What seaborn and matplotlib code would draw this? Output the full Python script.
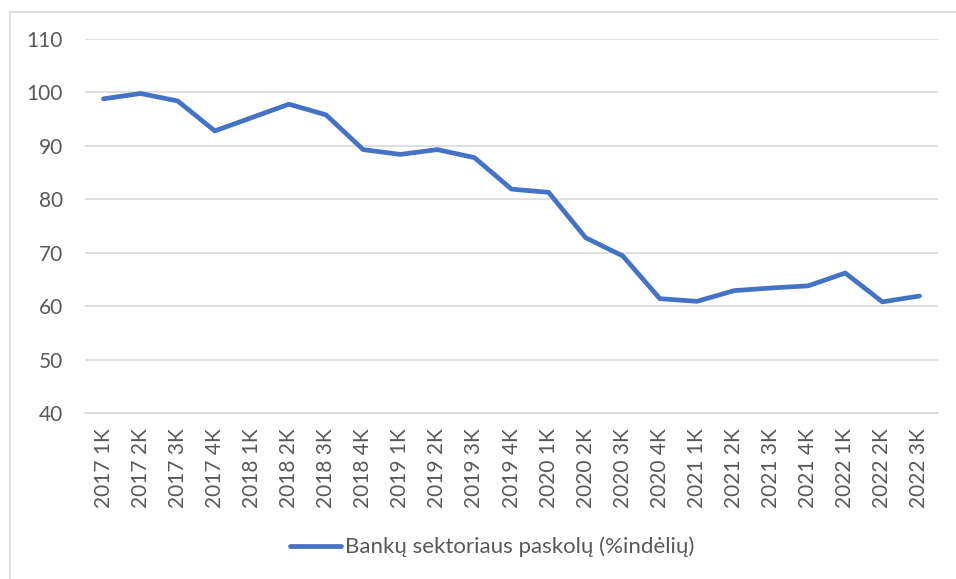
import matplotlib
matplotlib.use("Agg")
import matplotlib.pyplot as plt
from matplotlib.patches import Rectangle
import seaborn as sns
import pandas as pd

quarters = ["2017 1K", "2017 2K", "2017 3K", "2017 4K",
            "2018 1K", "2018 2K", "2018 3K", "2018 4K",
            "2019 1K", "2019 2K", "2019 3K", "2019 4K",
            "2020 1K", "2020 2K", "2020 3K", "2020 4K",
            "2021 1K", "2021 2K", "2021 3K", "2021 4K",
            "2022 1K", "2022 2K", "2022 3K"]
loans_to_deposits = [98.8, 99.8, 98.4, 92.8, 95.3, 97.8, 95.8, 89.3, 88.4,
                     89.3, 87.8, 81.9, 81.3, 72.8, 69.4, 61.4, 60.9, 62.9,
                     63.4, 63.8, 66.2, 60.8, 61.9]
series_name = "Bankų sektoriaus paskolų (%indėlių)"
y_ticks = [40, 50, 60, 70, 80, 90, 100, 110]

sns.set_theme(style="white")
plt.rcParams["font.family"] = ["Lato", "DejaVu Sans"]

text_color = "#595959"
grid_color = "#D9D9D9"
line_color = "#4472C4"

df = pd.DataFrame({"quarter": quarters, "value": loans_to_deposits,
                   "series": series_name})

fig = plt.figure(figsize=(9.56, 5.79), dpi=100)
# chart area frame
fig.patches.append(Rectangle((10 / 956, -0.1), 2.0, 1 - 12 / 579 + 0.1,
                             transform=fig.transFigure, fill=False,
                             edgecolor=grid_color, linewidth=1.2))
ax = fig.add_axes([85 / 956, 1 - 413 / 579, (938 - 85) / 956, (413 - 39) / 579])

sns.lineplot(data=df, x="quarter", y="value", hue="series", sort=False,
             palette=[line_color], linewidth=3.4, ax=ax, legend=False)
ax.lines[0].set_solid_capstyle("round")
ax.lines[0].set_solid_joinstyle("round")

ax.set_ylim(40, 110)
ax.set_xlim(-0.5, len(quarters) - 0.5)
ax.set_yticks(y_ticks)
ax.set_yticklabels([str(v) for v in y_ticks])
ax.yaxis.grid(True, color=grid_color, linewidth=1.2)
ax.set_axisbelow(True)
for side in ["left", "right", "top"]:
    ax.spines[side].set_visible(False)
ax.spines["bottom"].set_color(grid_color)
ax.spines["bottom"].set_linewidth(1.2)
ax.tick_params(axis="both", length=0, colors=text_color, labelsize=15)
ax.tick_params(axis="y", pad=16)
ax.tick_params(axis="x", pad=11)
plt.setp(ax.get_xticklabels(), rotation=90)
ax.set_xlabel("")
ax.set_ylabel("")

handle = plt.Line2D([], [], color=line_color, linewidth=3.4,
                    solid_capstyle="round")
fig.legend([handle], [series_name], loc="center",
           bbox_to_anchor=(492 / 956, 1 - 547 / 579), frameon=False,
           fontsize=16, labelcolor=text_color, handlelength=2.3,
           handletextpad=0.2)

fig.savefig("out.png", dpi=100)
